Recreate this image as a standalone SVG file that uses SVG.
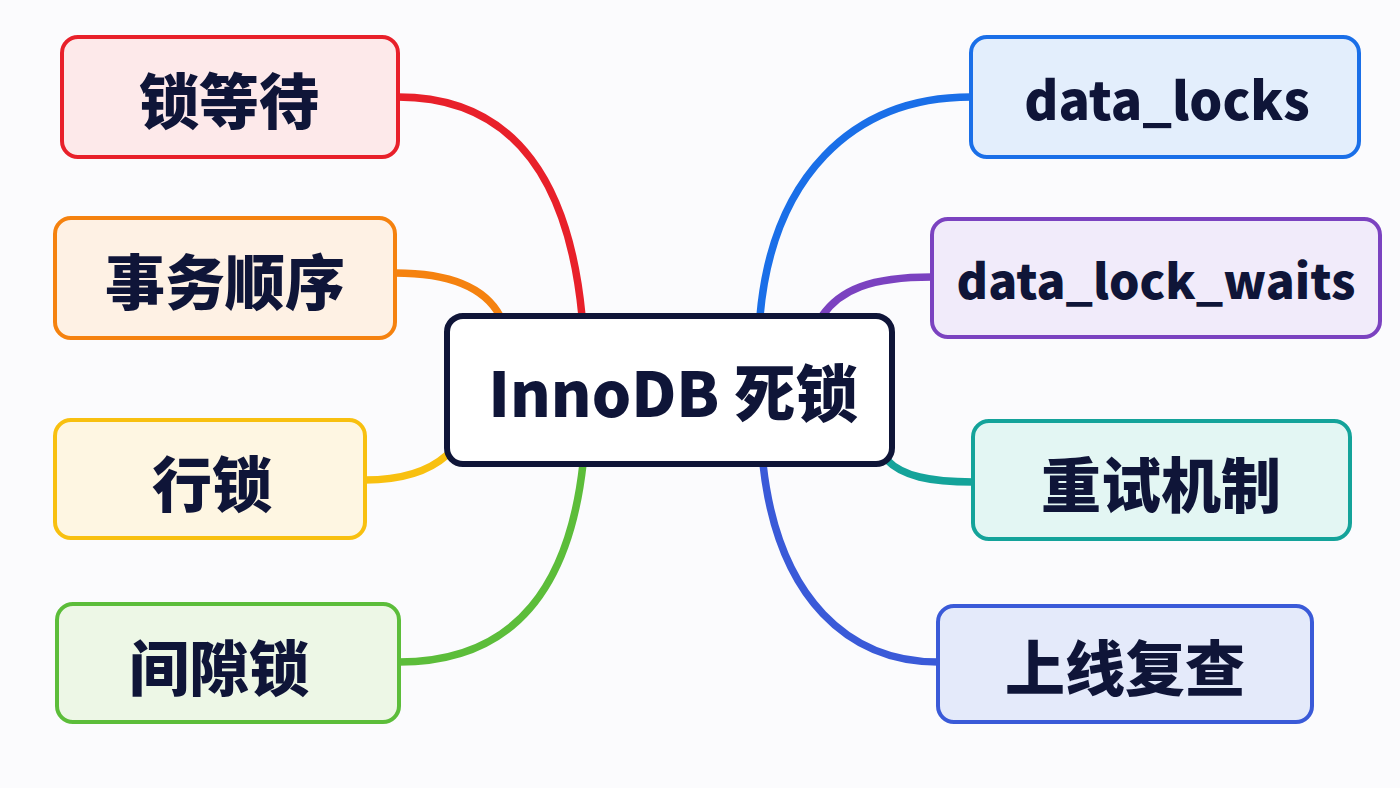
<svg xmlns="http://www.w3.org/2000/svg" width="1400" height="788" viewBox="0 0 1400 788">
<style>
.lbl{font-family:"Noto Sans CJK SC","Noto Sans",sans-serif;font-weight:900;fill:#0f1538;text-anchor:middle;dominant-baseline:central}
.node{stroke-width:4}
.c{fill:none;stroke-width:7.5;stroke-linecap:round}
</style>
<rect width="1400" height="788" fill="#fbfbfd"/>
<g id="connectors">
<path class="c" stroke="#e8202a" d="M398,97 C520,97 570,190 582,316"/>
<path class="c" stroke="#f5820f" d="M395,273 C450,273 485,288 500,316"/>
<path class="c" stroke="#f8c010" d="M365,480 C400,480 428,472 447,455"/>
<path class="c" stroke="#5cbd3a" d="M399,662 C520,662 570,580 583,464"/>
<path class="c" stroke="#1a6fe8" d="M971,97 C850,97 772,180 760,316"/>
<path class="c" stroke="#7b42c0" d="M932,277 C870,277 840,290 822,316"/>
<path class="c" stroke="#14a39a" d="M973,482 C930,482 902,476 887,460"/>
<path class="c" stroke="#3a5ad8" d="M938,662 C850,662 778,600 763,464"/>
</g>
<g id="n-lockwait"><rect class="node" x="62" y="37" width="336" height="120" rx="16" fill="#fde9ea" stroke="#e8202a"/><text class="lbl" x="229" y="97" font-size="60">锁等待</text></g>
<g id="n-txorder"><rect class="node" x="55" y="218" width="340" height="120" rx="16" fill="#fef1e4" stroke="#f5820f"/><text class="lbl" x="225" y="278" font-size="60">事务顺序</text></g>
<g id="n-rowlock"><rect class="node" x="55" y="420" width="310" height="118" rx="16" fill="#fef6e2" stroke="#f8c010"/><text class="lbl" x="212" y="480" font-size="60">行锁</text></g>
<g id="n-gaplock"><rect class="node" x="57" y="604" width="342" height="118" rx="16" fill="#edf7e6" stroke="#5cbd3a"/><text class="lbl" x="219" y="664" font-size="60">间隙锁</text></g>
<g id="n-center"><rect x="447" y="316" width="445" height="148" rx="16" fill="#ffffff" stroke="#0f1538" stroke-width="6"/><text class="lbl" x="673" y="390" font-size="62">InnoDB 死锁</text></g>
<g id="n-datalocks"><rect class="node" x="971" y="37" width="388" height="120" rx="16" fill="#e3eefc" stroke="#1a6fe8"/><text class="lbl" x="1167" y="97" font-size="52">data_locks</text></g>
<g id="n-datalockwaits"><rect class="node" x="932" y="219" width="448" height="118" rx="16" fill="#f1ebfa" stroke="#7b42c0"/><text class="lbl" x="1156" y="278" font-size="48">data_lock_waits</text></g>
<g id="n-retry"><rect class="node" x="973" y="421" width="377" height="118" rx="16" fill="#e3f6f3" stroke="#14a39a"/><text class="lbl" x="1161" y="481" font-size="60">重试机制</text></g>
<g id="n-review"><rect class="node" x="938" y="606" width="374" height="116" rx="16" fill="#e4eafa" stroke="#3a5ad8"/><text class="lbl" x="1125" y="664" font-size="60">上线复查</text></g>
</svg>
